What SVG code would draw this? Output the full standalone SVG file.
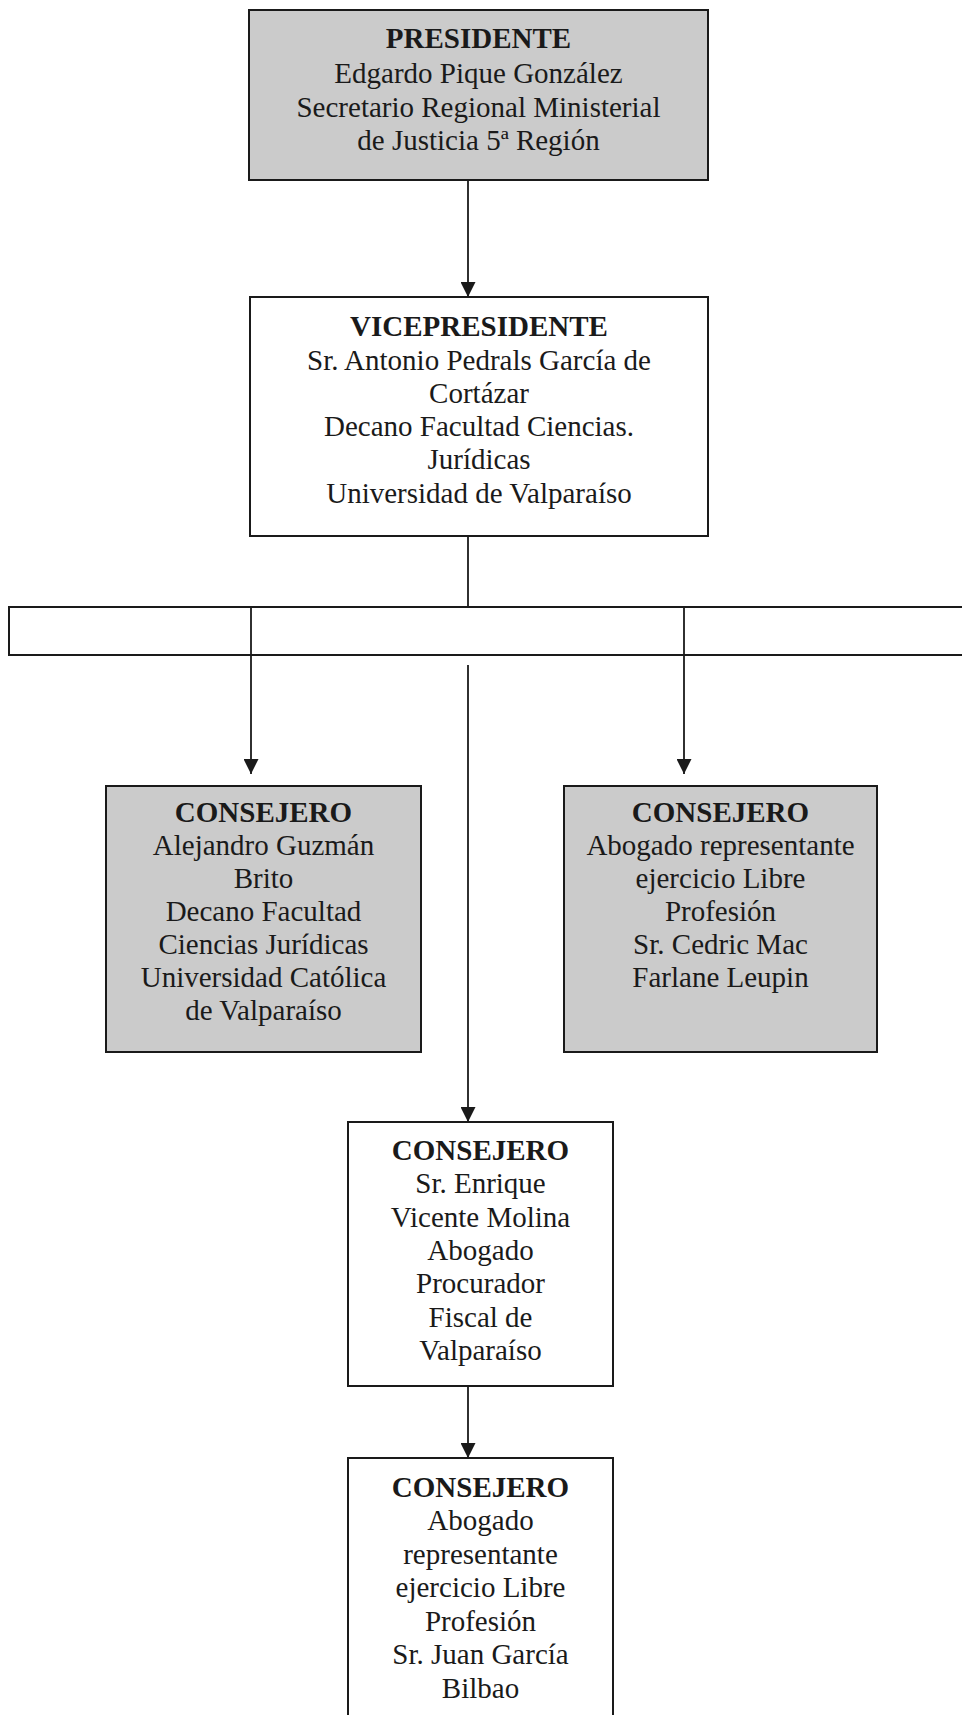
<svg xmlns="http://www.w3.org/2000/svg" width="962" height="1715" viewBox="0 0 962 1715">
<defs>
<style>
.box{stroke:#1a1a1a;stroke-width:2}
.grey{fill:#cbcbcb}
.white{fill:#ffffff}
.t{font-family:"Liberation Serif","Times New Roman",serif;font-size:29px;fill:#1a1a1a;text-anchor:middle}
.b{font-weight:bold}
.conn{stroke:#1a1a1a;stroke-width:1.8;fill:none}
</style>
<marker id="arr" viewBox="0 0 10 10" refX="10" refY="5" markerWidth="15" markerHeight="15" markerUnits="userSpaceOnUse" orient="auto">
<path d="M0,0 L10,5 L0,10 z" fill="#1a1a1a"/>
</marker>
</defs>
<rect width="962" height="1715" fill="#ffffff"/>

<g id="connectors">
<line class="conn" x1="468" y1="180" x2="468" y2="297" marker-end="url(#arr)"/>
<line class="conn" x1="468" y1="536" x2="468" y2="607"/>
<line class="conn" x1="251" y1="607" x2="251" y2="774" marker-end="url(#arr)"/>
<line class="conn" x1="684" y1="607" x2="684" y2="774" marker-end="url(#arr)"/>
<line class="conn" x1="468" y1="665" x2="468" y2="1122" marker-end="url(#arr)"/>
<line class="conn" x1="468" y1="1386" x2="468" y2="1458" marker-end="url(#arr)"/>
</g>

<g id="band">
<rect class="box" x="9" y="607" width="960" height="48" fill="none"/>
</g>

<g id="presidente">
<rect class="box grey" x="249" y="10" width="459" height="170"/>
<text class="t b" x="478.5" y="48">PRESIDENTE</text>
<text class="t" x="478.5" y="83">Edgardo Pique González</text>
<text class="t" x="478.5" y="117">Secretario Regional Ministerial</text>
<text class="t" x="478.5" y="150">de Justicia 5ª Región</text>
</g>

<g id="vicepresidente">
<rect class="box white" x="250" y="297" width="458" height="239"/>
<text class="t b" x="479" y="336">VICEPRESIDENTE</text>
<text class="t" x="479" y="370">Sr. Antonio Pedrals García de</text>
<text class="t" x="479" y="403">Cortázar</text>
<text class="t" x="479" y="436">Decano Facultad Ciencias.</text>
<text class="t" x="479" y="469">Jurídicas</text>
<text class="t" x="479" y="503">Universidad de Valparaíso</text>
</g>

<g id="consejero-guzman">
<rect class="box grey" x="106" y="786" width="315" height="266"/>
<text class="t b" x="263.5" y="822">CONSEJERO</text>
<text class="t" x="263.5" y="855">Alejandro Guzmán</text>
<text class="t" x="263.5" y="888">Brito</text>
<text class="t" x="263.5" y="921">Decano Facultad</text>
<text class="t" x="263.5" y="954">Ciencias Jurídicas</text>
<text class="t" x="263.5" y="987">Universidad Católica</text>
<text class="t" x="263.5" y="1020">de Valparaíso</text>
</g>

<g id="consejero-macfarlane">
<rect class="box grey" x="564" y="786" width="313" height="266"/>
<text class="t b" x="720.5" y="822">CONSEJERO</text>
<text class="t" x="720.5" y="855">Abogado representante</text>
<text class="t" x="720.5" y="888">ejercicio Libre</text>
<text class="t" x="720.5" y="921">Profesión</text>
<text class="t" x="720.5" y="954">Sr. Cedric Mac</text>
<text class="t" x="720.5" y="987">Farlane Leupin</text>
</g>

<g id="consejero-vicente">
<rect class="box white" x="348" y="1122" width="265" height="264"/>
<text class="t b" x="480.5" y="1160">CONSEJERO</text>
<text class="t" x="480.5" y="1193">Sr. Enrique</text>
<text class="t" x="480.5" y="1227">Vicente Molina</text>
<text class="t" x="480.5" y="1260">Abogado</text>
<text class="t" x="480.5" y="1293">Procurador</text>
<text class="t" x="480.5" y="1327">Fiscal de</text>
<text class="t" x="480.5" y="1360">Valparaíso</text>
</g>

<g id="consejero-garcia">
<rect class="box white" x="348" y="1458" width="265" height="270"/>
<text class="t b" x="480.5" y="1497">CONSEJERO</text>
<text class="t" x="480.5" y="1530">Abogado</text>
<text class="t" x="480.5" y="1564">representante</text>
<text class="t" x="480.5" y="1597">ejercicio Libre</text>
<text class="t" x="480.5" y="1631">Profesión</text>
<text class="t" x="480.5" y="1664">Sr. Juan García</text>
<text class="t" x="480.5" y="1698">Bilbao</text>
</g>
</svg>
